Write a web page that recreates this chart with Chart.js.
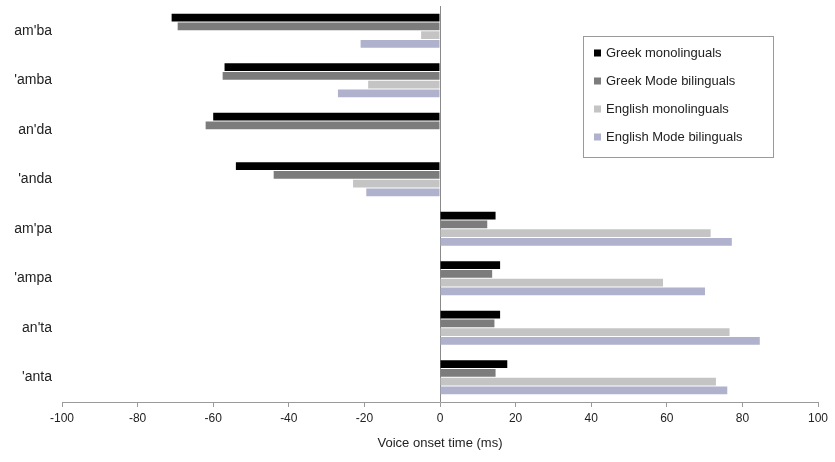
<!DOCTYPE html>
<html>
<head>
<meta charset="utf-8">
<script src="https://cdn.jsdelivr.net/npm/chart.js@4"></script>
<style>
  html, body { margin: 0; padding: 0; background: #fff; }
  #wrap { width: 835px; height: 462px; position: relative; }
</style>
</head>
<body>
<div id="wrap"><canvas id="c"></canvas></div>
<script>
// Voice onset time (ms) per token type and speaker group
const categories = ["am'ba", "'amba", "an'da", "'anda", "am'pa", "'ampa", "an'ta", "'anta"];
const seriesNames = ["Greek monolinguals", "Greek Mode bilinguals", "English monolinguals", "English Mode bilinguals"];
const greekMono = [-71, -57, -60, -54, 14.7, 15.9, 15.9, 17.8];
const greekModeBi = [-69.4, -57.5, -62, -44, 12.5, 13.8, 14.4, 14.7];
const englishMono = [-5, -19, null, -23, 71.6, 59, 76.6, 73];
const englishModeBi = [-21, -27, null, -19.5, 77.2, 70.1, 84.6, 76];
const xTicks = [-100, -80, -60, -40, -20, 0, 20, 40, 60, 80, 100];

const colors = ["#000000", "#7c7c7c", "#c4c4c4", "#b0b1cd"];
const seriesValues = [greekMono, greekModeBi, englishMono, englishModeBi];

const FONT = "'Liberation Sans', Arial, sans-serif";

// Boxed legend drawn inside the plot, upper right
const boxLegend = {
  id: 'boxLegend',
  afterDraw(chart) {
    const ctx = chart.ctx;
    const x0 = 583, y0 = 36, w = 190, h = 121;
    ctx.save();
    ctx.fillStyle = '#fff';
    ctx.fillRect(x0, y0, w, h);
    ctx.strokeStyle = '#9a9a9a';
    ctx.lineWidth = 1;
    ctx.strokeRect(x0 + 0.5, y0 + 0.5, w, h);
    ctx.font = '13px ' + FONT;
    ctx.textBaseline = 'middle';
    chart.data.datasets.forEach((ds, i) => {
      const cy = y0 + 17 + i * 28;
      ctx.fillStyle = ds.backgroundColor;
      ctx.fillRect(x0 + 11, cy - 3.5, 7, 7);
      ctx.fillStyle = '#222';
      ctx.fillText(ds.label, x0 + 23, cy);
    });
    ctx.restore();
  }
};

new Chart(document.getElementById('c'), {
  type: 'bar',
  data: {
    labels: categories,
    datasets: seriesNames.map((name, i) => ({
      label: name,
      data: seriesValues[i],
      backgroundColor: colors[i],
      borderWidth: 0,
      categoryPercentage: 0.71,
      barPercentage: 0.88
    }))
  },
  options: {
    indexAxis: 'y',
    responsive: true,
    maintainAspectRatio: false,
    animation: false,
    layout: { padding: { top: 6, right: 17, left: 0, bottom: 0 } },
    plugins: { legend: { display: false }, tooltip: { enabled: false } },
    scales: {
      x: {
        min: -100,
        max: 100,
        afterBuildTicks(scale) { scale.ticks = xTicks.map(v => ({ value: v })); },
        afterFit(scale) {
          scale.height = 60;
          scale.paddingLeft = 0;
          scale.paddingRight = 0;
        },
        border: { display: true, color: '#9a9a9a', width: 1 },
        grid: {
          drawOnChartArea: true,
          color: ctx => (ctx.tick && ctx.tick.value === 0) ? '#8a8a8a' : 'rgba(0,0,0,0)',
          tickColor: '#9a9a9a',
          tickLength: 5,
          lineWidth: 1
        },
        ticks: {
          color: '#222',
          font: { family: FONT, size: 12 },
          padding: 4,
          maxRotation: 0
        },
        title: {
          display: true,
          text: 'Voice onset time (ms)',
          color: '#222',
          font: { family: FONT, size: 13 },
          padding: { top: 4, bottom: 11 }
        }
      },
      y: {
        afterFit(scale) {
          scale.width = 62;
          scale.paddingTop = 0;
          scale.paddingBottom = 0;
        },
        border: { display: false },
        grid: { display: false, drawTicks: false },
        ticks: {
          color: '#222',
          font: { family: FONT, size: 14 },
          padding: 10
        }
      }
    }
  },
  plugins: [boxLegend]
});
</script>
</body>
</html>
